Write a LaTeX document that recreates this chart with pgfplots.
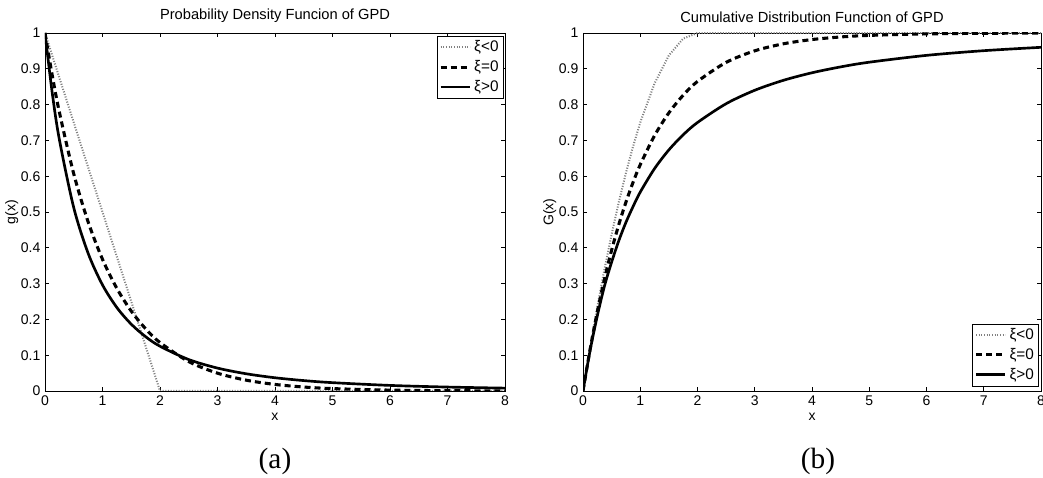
\documentclass[border=0pt]{standalone}
\usepackage{pgfplots}
\pgfplotsset{compat=1.18}
\usepackage{fontspec}
\setmainfont{Liberation Sans}
\newfontfamily\capfont{Liberation Serif}

\pgfplotstableread{
x      neg     zero    pos
0      1       1       1
0.125  0.9375  0.8825  0.8337
0.25   0.875   0.7788  0.7023
0.5    0.75    0.6065  0.5120
0.75   0.625   0.4724  0.3847
1      0.5     0.3679  0.2963
1.25   0.375   0.2865  0.2331
1.5    0.25    0.2231  0.1866
1.75   0.125   0.1738  0.1517
2      0       0.1353  0.1250
2.5    0       0.0821  0.0878
3      0       0.0498  0.0640
3.5    0       0.0302  0.0481
4      0       0.0183  0.0370
4.5    0       0.0111  0.0291
5      0       0.0067  0.0233
6      0       0.0025  0.0156
7      0       0.0009  0.0110
8      0       0.0003  0.0080
}\pdftab

\pgfplotstableread{
x      neg     zero    pos
0      0       0       0
0.125  0.1211  0.1175  0.1142
0.25   0.2344  0.2212  0.2099
0.375  0.3398  0.3127  0.2932
0.5    0.4375  0.3935  0.3600
0.625  0.5273  0.4647  0.4197
0.75   0.6094  0.5276  0.4711
0.875  0.6836  0.5831  0.5154
1      0.75    0.6321  0.5556
1.25   0.8594  0.7135  0.6213
1.5    0.9375  0.7769  0.6735
1.75   0.9844  0.8262  0.7156
2      1       0.8647  0.7500
2.5    1       0.9179  0.8025
3      1       0.9502  0.8400
3.5    1       0.9698  0.8678
4      1       0.9817  0.8889
4.5    1       0.9889  0.9053
5      1       0.9933  0.9184
6      1       0.9975  0.9375
7      1       0.9991  0.9506
8      1       0.9997  0.9600
}\cdftab

\pgfplotsset{
  gpd/.style={
    scale only axis, height=268.5pt,
    xmin=0, xmax=8, ymin=0, ymax=1,
    xtick={0,1,...,8}, ytick={0,0.1,...,1},
    tick align=inside, major tick length=3pt,
    axis line style={line width=0.6pt},
    tick style={line width=0.6pt, black},
    /pgf/number format/assume math mode=true,
    ticklabel style={font=\fontsize{10.5}{12}\selectfont},
    label style={font=\fontsize{10.5}{12}\selectfont},
    title style={font=\fontsize{11}{13}\selectfont, yshift=-2pt},
    xlabel={x}, xlabel style={yshift=1pt},
    legend cell align=left,
    legend style={font=\fontsize{11.5}{13}\selectfont, draw=black,
      line width=0.6pt, inner sep=1.5pt, row sep=1pt},
    legend image code/.code={\draw[##1] (0pt,0pt) -- (22pt,0pt);},
  },
  negl/.style={gray, line width=1.5pt, dash pattern=on 0.8pt off 1.2pt},
  zerol/.style={black, line width=2.3pt, dash pattern=on 4.5pt off 3pt},
  posl/.style={black, line width=2pt},
}

\begin{document}
\begin{tikzpicture}
\begin{axis}[gpd, at={(33.75pt,65.25pt)}, anchor=south west, width=345pt,
    ylabel={g(x)}, ylabel style={yshift=-5pt},
    title={Probability Density Funcion of GPD},
    legend style={at={(1,1)}, anchor=north east, xshift=-1pt, yshift=-2pt}]
\addplot[negl] table[x=x, y=neg] {\pdftab};
\addlegendentry{ξ<0}
\addplot[zerol, smooth] table[x=x, y=zero] {\pdftab};
\addlegendentry{ξ=0}
\addplot[posl, smooth] table[x=x, y=pos] {\pdftab};
\addlegendentry{ξ>0}
\end{axis}

\begin{axis}[gpd, at={(437.25pt,65.25pt)}, anchor=south west, width=343.5pt,
    ylabel={G(x)}, ylabel style={yshift=-5pt},
    title={Cumulative Distribution Function of GPD},
    legend style={at={(1,0)}, anchor=south east, xshift=-1.5pt, yshift=3.5pt}]
\addplot[negl] table[x=x, y=neg] {\cdftab};
\addlegendentry{ξ<0}
\addplot[zerol, smooth] table[x=x, y=zero] {\cdftab};
\addlegendentry{ξ=0}
\addplot[posl, smooth] table[x=x, y=pos] {\cdftab};
\addlegendentry{ξ>0}
\end{axis}

\node[font=\capfont\fontsize{22}{24}\selectfont] at (206.25pt,12.75pt) {(a)};
\node[font=\capfont\fontsize{22}{24}\selectfont] at (613.5pt,12.75pt) {(b)};

\pgfresetboundingbox
\path (0pt,0pt) rectangle (782.25pt,358.5pt);
\end{tikzpicture}
\end{document}
